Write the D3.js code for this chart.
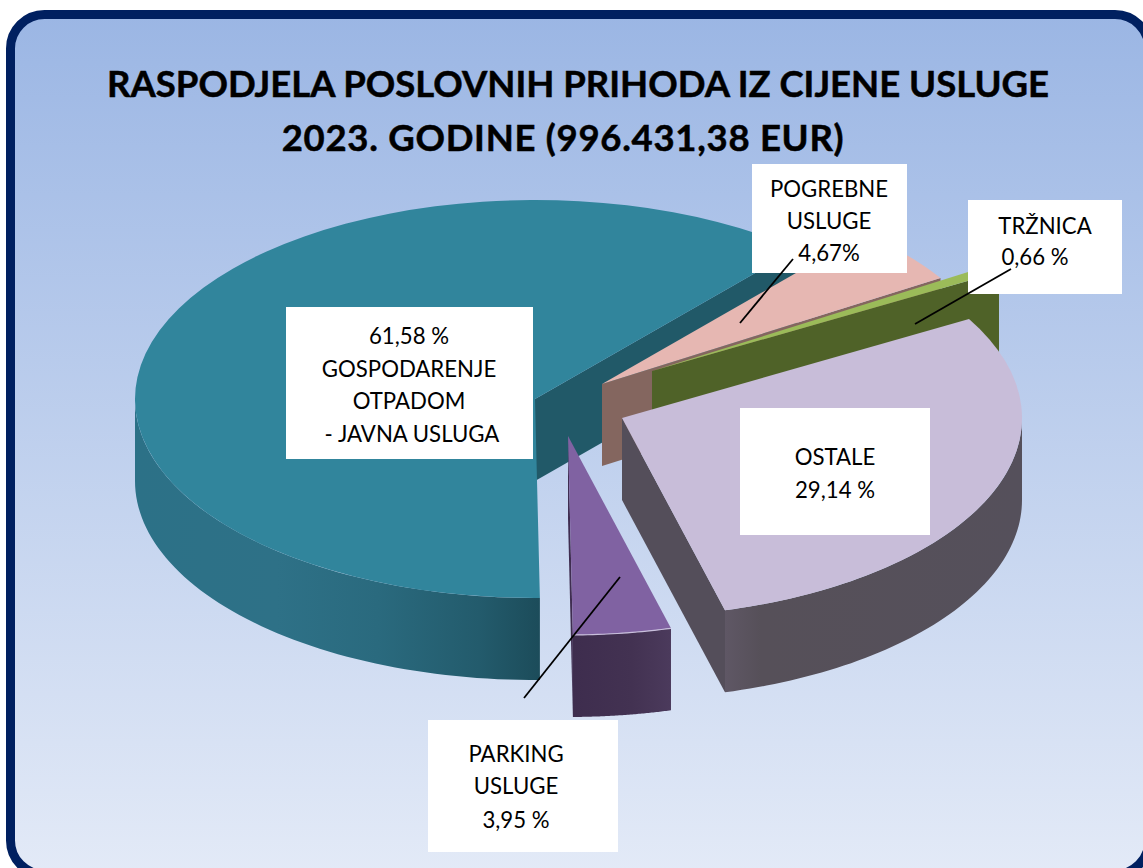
<!DOCTYPE html>
<html><head><meta charset="utf-8">
<script src="https://cdnjs.cloudflare.com/ajax/libs/d3/7.8.5/d3.min.js"></script>
<style>html,body{margin:0;padding:0;background:#fff;overflow:hidden}svg{display:block}text{font-family:Lato,"Open Sans",sans-serif;fill:#000}</style>
</head><body><svg id="c" width="1143" height="868"></svg>
<script>
const categories=["GOSPODARENJE OTPADOM - JAVNA USLUGA","POGREBNE USLUGE","TRŽNICA","OSTALE","PARKING USLUGE"];
const shares=[61.58,4.67,0.66,29.14,3.95];
const titleLines=["RASPODJELA POSLOVNIH PRIHODA IZ CIJENE USLUGE","2023. GODINE (996.431,38 EUR)"];
const labelLines=[["61,58 %","GOSPODARENJE","OTPADOM","- JAVNA USLUGA"],["POGREBNE","USLUGE","4,67%"],["TRŽNICA","0,66 %"],["OSTALE","29,14 %"],["PARKING","USLUGE","3,95 %"]];
const topColors=["#31859c","#e6b7b2","#9bbb59","#c8bdd9","#8062a2"];
const wallColors=["#215968","#84665f","#4f6228","#544e5a","#3f2d50"];
const arcStops=[[["0","#2c7187"],["0.35","#2e7187"],["0.6","#2a6a7e"],["0.85","#235b6c"],["1","#1c4c5a"]],null,null,[["0","#5f5765"],["0.12","#565059"],["1","#55505b"]],[["0","#3e2d4e"],["0.6","#433252"],["1","#4b3a5c"]]];
const centers=[[535,399],[602,384],[652,371],[622,418],[568,436]];
const labelBoxes=[[286,307,247,152],[752,164,155,109],[968,200,154,94],[740,408,190,127],[428,720,190,132]];
const lineCentres=[[[409,336],[409,369],[409,401],[412,434]],[[829,189],[829,221],[829,253]],[[1045,226],[1035,257]],[[835,457],[835,490]],[[516,754],[516,786],[516,820]]];
const leaders=[[[793,259],[740,323]],[[1011,269],[915,324]],[[620,577],[524,698]]];
const titleSpacing=[0,0.72];
const rx=400,ry=199,depth=82,startDeg=179.3;

const svg=d3.select("#c"),defs=svg.append("defs");
const bg=defs.append("linearGradient").attr("id","bg").attr("x1",0).attr("y1",0).attr("x2",0).attr("y2",1);
bg.append("stop").attr("offset",0).attr("stop-color","#9bb6e4");
bg.append("stop").attr("offset",1).attr("stop-color","#e3eaf7");
svg.append("rect").attr("x",10.5).attr("y",14.5).attr("width",1138.5).attr("height",860).attr("rx",34).attr("ry",34)
  .attr("fill","url(#bg)").attr("stroke","#002060").attr("stroke-width",9);

const title=svg.append("g");
titleLines.forEach((t,i)=>title.append("text").attr("x",i?563:578).attr("y",84+54*i).attr("dy","0.36em")
  .attr("text-anchor","middle").attr("font-weight",700).attr("font-size",36.5).attr("letter-spacing",titleSpacing[i])
  .attr("stroke","#000").attr("stroke-width",0.5).text(t));

const start=startDeg*Math.PI/180,PI=Math.PI;
const pie=d3.pie().sort(null).startAngle(start).endAngle(start+2*PI)(shares);
const ang=d3.scaleLinear().domain([0,1]);
const pt=(c,a,r=rx,dy=0)=>[c[0]+r*Math.sin(a),c[1]-r*Math.cos(a)*ry/rx+dy];
const line=d3.line();
const arc=d3.arc().innerRadius(0).outerRadius(rx);

pie.forEach((p,i)=>{
  const c=centers[i],g=svg.append("g");
  const radial=(a)=>{const o=pt(c,a);
    g.append("path").attr("fill",wallColors[i]).attr("d",line([[c[0],c[1]],o,[o[0],o[1]+depth],[c[0],c[1]+depth]])+"Z");};
  if(Math.sin(p.startAngle)<0) radial(p.startAngle);
  if(Math.sin(p.endAngle)>0) radial(p.endAngle);
  // outer wall: the part of the rim facing the viewer
  const turn=p.startAngle>=2*PI?2*PI:0;
  const a0=Math.max(p.startAngle-turn,PI/2),a1=Math.min(p.endAngle-turn,3*PI/2);
  if(a1>a0){
    const as=d3.range(0,61).map(k=>ang.range([a0,a1])(k/60));
    const upper=as.map(a=>pt(c,a)),lower=as.map(a=>pt(c,a,rx,depth)).reverse();
    let fill=wallColors[i];
    if(arcStops[i]){
      const xs=upper.map(d=>d[0]);
      const gr=defs.append("linearGradient").attr("id","w"+i).attr("gradientUnits","userSpaceOnUse")
        .attr("x1",d3.min(xs)).attr("x2",d3.max(xs)).attr("y1",0).attr("y2",0);
      arcStops[i].forEach(st=>gr.append("stop").attr("offset",st[0]).attr("stop-color",st[1]));
      fill=`url(#w${i})`;
    }
    g.append("path").attr("fill",fill).attr("d",line(upper.concat(lower))+"Z");
  }
  g.append("path").attr("transform",`translate(${c[0]},${c[1]}) scale(1,${ry/rx})`)
    .attr("fill",topColors[i]).attr("d",arc(p));
  if(i===4){
    const as=d3.range(0,21).map(k=>ang.range([p.startAngle,p.endAngle])(k/20));
    g.append("path").attr("fill","none").attr("stroke","#c9bfdc").attr("stroke-width",1.2).attr("d",line(as.map(a=>pt(c,a))));
  }
});

labelBoxes.forEach((b,i)=>{
  svg.append("rect").attr("x",b[0]).attr("y",b[1]).attr("width",b[2]).attr("height",b[3]).attr("fill","#fff");
  labelLines[i].forEach((t,j)=>svg.append("text").attr("x",lineCentres[i][j][0]).attr("y",lineCentres[i][j][1]).attr("dy","0.36em")
    .attr("text-anchor","middle").attr("font-size",22.2).text(t));
});
leaders.forEach(l=>svg.append("path").attr("d",line(l)).attr("stroke","#000").attr("stroke-width",1.8).attr("fill","none"));
</script></body></html>
